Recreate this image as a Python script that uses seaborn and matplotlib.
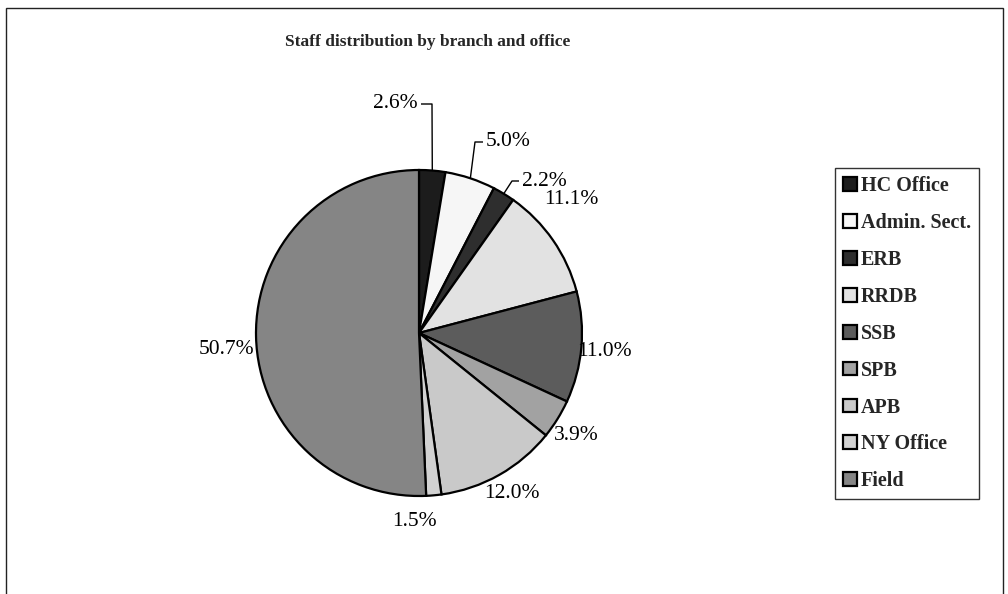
import matplotlib
matplotlib.use("Agg")
import matplotlib.pyplot as plt
import numpy as np
import seaborn as sns
from matplotlib.patches import Rectangle

# Staff share by branch/office (percent of total staff)
categories = ["HC Office", "Admin. Sect.", "ERB", "RRDB", "SSB", "SPB", "APB", "NY Office", "Field"]
shares = [2.6, 5.0, 2.2, 11.1, 11.0, 3.9, 12.0, 1.5, 50.7]
title = "Staff distribution by branch and office"

# grey fills for each slice
fills = ["#1c1c1c", "#f6f6f6", "#2e2e2e", "#e2e2e2", "#5c5c5c",
         "#a2a2a2", "#c9c9c9", "#d2d2d2", "#858585"]

sns.set_theme(style="white")
plt.rcParams["font.family"] = ["Liberation Serif", "DejaVu Serif"]

W, H = 1008, 594
fig = plt.figure(figsize=(W / 100, H / 100), dpi=100)
fig.patch.set_facecolor("white")

# axes in pixel units (y measured upward)
ax = fig.add_axes([0, 0, 1, 1])
cx, cy, R = 419, H - 333, 163

wedges, _ = ax.pie(shares, startangle=90, counterclock=False,
                   center=(cx, cy), radius=R, colors=fills,
                   wedgeprops=dict(edgecolor="black", linewidth=1.6))
ax.set_xlim(0, W)
ax.set_ylim(0, H)
ax.set_aspect("auto")
ax.axis("off")

# label layout: (x, y from top, horizontal alignment, leader elbow or None)
label_layout = [
    (418, 104, "right", (432, 104)),
    (486, 142, "left", (475, 142)),
    (522, 181, "left", (512, 181)),
    (571, 200, "center", None),
    (604, 352, "center", None),
    (576, 436, "center", None),
    (512, 494, "center", None),
    (414, 521, "center", None),
    (227, 350, "center", None),
]

for w, val, (lx, ly, ha, elbow) in zip(wedges, shares, label_layout):
    ax.text(lx, H - ly, f"{val:.1f}%", ha=ha, va="center", fontsize=15.5,
            color="black")
    if elbow is not None:
        ang = np.deg2rad((w.theta1 + w.theta2) / 2)
        ex, ey = cx + R * np.cos(ang), cy + R * np.sin(ang)
        tx = lx + (3 if ha == "right" else -3)
        ax.plot([ex, elbow[0], tx], [ey, H - elbow[1], H - ly],
                color="black", linewidth=1.0, solid_capstyle="butt")

fig.text(428 / W, 1 - 42 / H, title, ha="center", va="center",
         fontsize=12.5, fontweight="bold")

leg = ax.legend(wedges, categories, loc="upper left",
                bbox_to_anchor=(835 / W, 1 - 168 / H),
                bbox_transform=fig.transFigure,
                prop=dict(family="Liberation Serif", weight="bold", size=14.5),
                frameon=True, fancybox=False, shadow=False,
                handlelength=0.68, handleheight=0.68, handletextpad=0.22,
                labelspacing=0.84, borderpad=0.4, borderaxespad=0)
leg.get_frame().set_edgecolor("black")
leg.get_frame().set_linewidth(1.0)
for p in leg.get_patches():
    p.set_linewidth(1.6)

# outer chart border (open at the bottom)
fig.patches.append(Rectangle((6 / W, -0.05), (1003 - 6) / W, 1.05 - 8 / H,
                             transform=fig.transFigure, fill=False,
                             edgecolor="#222222", linewidth=1.0))

fig.savefig("out.png", dpi=100)
